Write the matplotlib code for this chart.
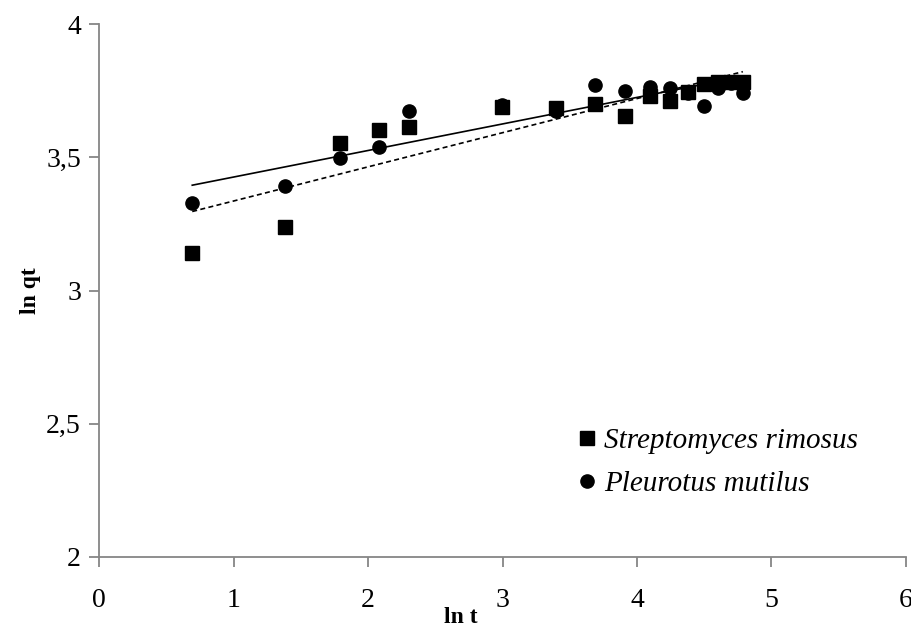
import numpy as np
import matplotlib
matplotlib.use("Agg")
import matplotlib.pyplot as plt
from matplotlib.ticker import FuncFormatter

# ln t for contact times 2 ... 120 min
ln_t_strep = [0.693, 1.386, 1.792, 2.079, 2.303, 2.996, 3.401, 3.689,
              3.912, 4.094, 4.248, 4.382, 4.500, 4.605, 4.700, 4.787]
ln_qt_strep = [3.140, 3.239, 3.555, 3.602, 3.615, 3.687, 3.684, 3.700,
               3.655, 3.730, 3.712, 3.746, 3.775, 3.784, 3.782, 3.782]

ln_t_pleu = [0.693, 1.386, 1.792, 2.079, 2.303, 2.996, 3.401, 3.689,
             3.912, 4.094, 4.248, 4.382, 4.500, 4.605, 4.700, 4.787]
ln_qt_pleu = [3.327, 3.392, 3.496, 3.537, 3.675, 3.698, 3.672, 3.771,
              3.750, 3.765, 3.759, 3.740, 3.692, 3.759, 3.780, 3.742]

label_strep = "Streptomyces rimosus"
label_pleu = "Pleurotus mutilus"

plt.rcParams["font.family"] = ["Liberation Serif", "DejaVu Serif"]

W, H = 912, 629
fig = plt.figure(figsize=(W / 100, H / 100), dpi=100)
ax = fig.add_axes([0.1086, 0.1145, 0.8848, 0.8473])

axis_grey = "#868686"

ax.plot(ln_t_strep, ln_qt_strep, linestyle="none", marker="s", markersize=10,
        color="black", label=label_strep, zorder=3)
ax.plot(ln_t_pleu, ln_qt_pleu, linestyle="none", marker="o", markersize=9.5,
        color="black", label=label_pleu, zorder=2)

# linear trend lines
xs = np.array(ln_t_strep)
k, b = np.polyfit(xs, ln_qt_strep, 1)
ax.plot([xs.min(), xs.max()], [k * xs.min() + b, k * xs.max() + b],
        color="black", linewidth=1.2, linestyle=(0, (3, 2)), zorder=4)
xp = np.array(ln_t_pleu)
k2, b2 = np.polyfit(xp, ln_qt_pleu, 1)
ax.plot([xp.min(), xp.max()], [k2 * xp.min() + b2, k2 * xp.max() + b2],
        color="black", linewidth=1.2, linestyle="-", zorder=4)

ax.set_xlim(0, 6)
ax.set_ylim(2, 4)
ax.set_xticks(range(0, 7))
ax.set_yticks([2, 2.5, 3, 3.5, 4])
ax.yaxis.set_major_formatter(FuncFormatter(
    lambda v, p: ("%g" % v).replace(".", ",")))

for side in ("top", "right"):
    ax.spines[side].set_visible(False)
for side in ("left", "bottom"):
    ax.spines[side].set_color(axis_grey)
    ax.spines[side].set_linewidth(1.3)
ax.tick_params(axis="both", direction="out", length=7, width=1.3,
               color=axis_grey, labelsize=20, labelcolor="black")
ax.tick_params(axis="x", pad=15)
ax.tick_params(axis="y", pad=6)

fig.text(461 / W, 1 - 623 / H, "ln t", fontsize=17, fontweight="bold",
         ha="center", va="baseline")
fig.text(31 / W, 1 - 291 / H, "ln qt", fontsize=17, fontweight="bold",
         ha="center", va="center", rotation=90)

leg = ax.legend(loc="upper left", bbox_to_anchor=(578 / W, 1 - 428 / H),
                bbox_transform=fig.transFigure,
                frameon=False, handlelength=0.6, handletextpad=0.3,
                labelspacing=0.56, borderaxespad=0, borderpad=0,
                prop={"family": "Liberation Serif", "style": "italic",
                      "size": 21})

fig.savefig("out.png", dpi=100)
